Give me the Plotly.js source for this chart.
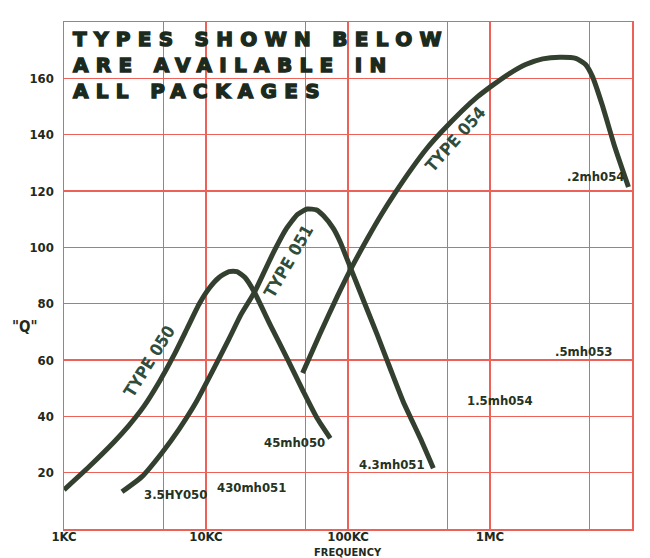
<!DOCTYPE html>
<html><head><meta charset="utf-8">
<script src="https://cdn.plot.ly/plotly-3.0.1.min.js"></script>
<style>
html,body{margin:0;padding:0;background:#fff;}
#chart{width:650px;height:558px;}
g.annotation[data-index="0"] text{letter-spacing:7.3px;stroke:#1b2a1c;stroke-width:1.4px;}
</style></head><body><div id="chart"></div>
<script>
// ---- data ----
const freqTicks = [1e3, 5e3, 1e4, 5e4, 1e5, 5e5, 1e6, 5e6, 1e7];
const freqTickText = ['1KC', '', '10KC', '', '100KC', '', '1MC', '', '10MC'];
const qTicks = [20, 40, 60, 80, 100, 120, 140, 160];

const type050Freq = [1000, 1500, 2250, 2870, 3660, 4670, 5960, 7350, 8930, 10500, 12350, 14520, 16520, 18830, 21800, 28380, 37400, 48500, 60800, 75000];
const type050Q    = [13.9, 22.1, 30.9, 36.8, 43.6, 52.1, 61.8, 71.1, 79.8, 85.4, 89.3, 91.4, 91.4, 89.3, 84.3, 72.4, 60.4, 48.8, 39.2, 32.2];

const type051Freq = [2560, 3540, 4900, 6450, 8510, 11020, 14520, 17620, 21960, 29400, 36900, 44100, 51600, 59800, 67000, 78800, 88300, 103800, 128200, 160800, 198600, 245000, 323000, 399000];
const type051Q    = [13.2, 18.6, 27.1, 35.4, 45.0, 55.7, 67.5, 76.1, 84.1, 97.5, 106.7, 111.7, 113.6, 113.3, 111.3, 106.7, 101.8, 92.9, 81.3, 68.9, 56.9, 45.2, 32.2, 21.6];

const type054Freq = [47900, 63400, 84100, 104200, 138000, 171000, 211800, 285000, 358800, 458000, 636800, 814600, 1040000, 1371000, 1782000, 2350000, 3097000, 4018000, 4710000, 5270000, 6166000, 7570000, 9440000];
const type054Q    = [55.4, 69.2, 82.6, 92.1, 103.4, 111.5, 118.9, 128.4, 135.1, 141.1, 148.5, 153.4, 157.5, 161.7, 164.9, 166.9, 167.5, 167.1, 164.9, 160.6, 150.6, 135.6, 121.4];

const typeLabels     = ['TYPE 050', 'TYPE 051', 'TYPE 054'];
const typeLabelFreq  = [4000, 38100, 570000];
const typeLabelQ     = [59.6, 95.2, 138.5];
const typeLabelAngle = [-58, -60, -48];

const partLabels    = ['3.5HY050', '430mh051', '45mh050', '4.3mh051', '1.5mh054', '.5mh053', '.2mh054'];
const partLabelFreq = [6080, 20900, 42300, 203200, 1183000, 4581000, 5534000];
const partLabelQ    = [12.3, 14.8, 30.6, 23.0, 45.6, 63.0, 125.0];

const titleLines = ['TYPES SHOWN BELOW', 'ARE AVAILABLE IN', 'ALL PACKAGES'];

// ---- style ----
const NARROW = '"DejaVu Sans Condensed", "Liberation Sans Narrow", sans-serif';
const GRID = '#ec6258';
const CURVE = '#34402f';
const INK = '#1f2a1c';

function curve(x, y) {
  return {x: x, y: y, type: 'scatter', mode: 'lines',
          line: {color: CURVE, width: 5, shape: 'spline', smoothing: 0.5},
          hoverinfo: 'skip', showlegend: false};
}

const annotations = [];
annotations.push({
  xref: 'paper', yref: 'paper', x: 0.0123, y: 0.916, xanchor: 'left', yanchor: 'middle',
  align: 'left', showarrow: false, text: titleLines.join('<br>'),
  font: {family: '"DejaVu Sans", sans-serif', size: 20, weight: 900, color: '#1b2a1c'}
});
typeLabels.forEach((t, i) => annotations.push({
  xref: 'x', yref: 'y', x: Math.log10(typeLabelFreq[i]), y: typeLabelQ[i],
  text: t, showarrow: false, textangle: typeLabelAngle[i],
  font: {family: NARROW, size: 17, weight: 700, color: '#2f4d3a'}
}));
partLabels.forEach((t, i) => annotations.push({
  xref: 'x', yref: 'y', x: Math.log10(partLabelFreq[i]), y: partLabelQ[i],
  text: t, showarrow: false,
  font: {family: NARROW, size: 13, weight: 700, color: '#26331f'}
}));
annotations.push({
  xref: 'paper', yref: 'paper', x: -0.069, y: 0.398, xanchor: 'center', yanchor: 'middle',
  text: '"Q"', showarrow: false,
  font: {family: NARROW, size: 15, weight: 700, color: INK}
});
annotations.push({
  xref: 'paper', yref: 'paper', x: 0.5, y: -0.046, xanchor: 'center', yanchor: 'middle',
  text: 'FREQUENCY', showarrow: false,
  font: {family: NARROW, size: 11, weight: 700, color: INK}
});

const layout = {
  width: 650, height: 558,
  margin: {l: 64, r: 18, t: 22, b: 29},
  paper_bgcolor: '#ffffff', plot_bgcolor: '#ffffff',
  showlegend: false,
  xaxis: {
    type: 'log', range: [3, 7], tickvals: freqTicks, ticktext: freqTickText,
    showgrid: true, gridcolor: GRID, gridwidth: 1.5,
    showline: true, mirror: true, linecolor: GRID, linewidth: 1.5,
    ticks: '', zeroline: false, ticklabelstandoff: -5,
    tickfont: {family: NARROW, size: 13, weight: 700, color: INK}
  },
  yaxis: {
    range: [0, 180], tickvals: qTicks,
    showgrid: true, gridcolor: GRID, gridwidth: 1.5,
    showline: true, mirror: true, linecolor: GRID, linewidth: 1.5,
    ticks: '', zeroline: false, ticklabelstandoff: 6,
    tickfont: {family: NARROW, size: 13, weight: 700, color: INK}
  },
  shapes: [{
    type: 'rect', xref: 'paper', yref: 'paper', layer: 'between',
    x0: 0.004, x1: 0.747, y0: 160.7 / 180, y1: 0.997,
    fillcolor: '#ffffff', line: {width: 0}
  }],
  annotations: annotations
};

Plotly.newPlot('chart', [
  curve(type050Freq, type050Q),
  curve(type051Freq, type051Q),
  curve(type054Freq, type054Q)
], layout, {displayModeBar: false, staticPlot: true});
</script></body></html>
